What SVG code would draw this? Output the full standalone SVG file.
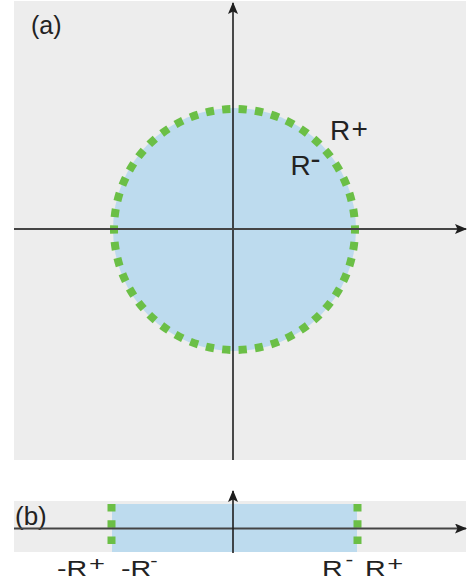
<svg xmlns="http://www.w3.org/2000/svg" width="469" height="585" viewBox="0 0 469 585">
  <style>
    .bg { fill: #ededed; }
    .region { fill: #bddbee; }
    .bound { fill: none; stroke: #6bbf46; stroke-width: 8; }
    .axis { stroke: #1e1e1e; stroke-width: 1.6; fill: none; }
    .haxis { stroke: #444; stroke-width: 2; fill: none; }
    .lbl { font-family: "Liberation Sans", Arial, sans-serif; fill: #222; }
  </style>
  <defs>
    <marker id="arr" viewBox="0 0 12 10" refX="11" refY="5" markerWidth="12" markerHeight="10" markerUnits="userSpaceOnUse" orient="auto">
      <path d="M0,0 L12,5 L0,10 L2.5,5 Z" fill="#1e1e1e"/>
    </marker>
  </defs>
  <rect width="469" height="585" fill="#ffffff"/>

  <g id="panel-a">
    <rect class="bg" x="14" y="1" width="452" height="459"/>
    <circle id="disk" class="region" cx="234.5" cy="229.5" r="121.5"/>
    <circle id="disk-boundary" class="bound" cx="234.5" cy="229.5" r="120.5" pathLength="736" stroke-dasharray="8 8" stroke-dashoffset="4"/>
    <text class="lbl" x="31" y="34" font-size="25">(a)</text>
    <text class="lbl" x="330" y="140" font-size="28">R<tspan x="351.6" y="137.8" font-size="28">+</tspan></text>
    <text class="lbl" x="290.5" y="175" font-size="28">R<tspan x="310.5" y="169" font-size="30">-</tspan></text>
  </g>

  <g id="panel-b">
    <rect class="bg" x="14" y="501" width="452" height="51"/>
    <rect id="interval" class="region" x="112" y="504" width="245" height="48"/>
    <line class="bound" x1="111.5" y1="504" x2="111.5" y2="545" stroke-dasharray="7.5 8.8"/>
    <line class="bound" x1="357.5" y1="504" x2="357.5" y2="545" stroke-dasharray="7.5 8.8"/>
    <text class="lbl" x="15" y="525" font-size="26">(b)</text>
    <g transform="translate(57,576) scale(1.3,1)">
      <text class="lbl" x="0" y="0" font-size="22">-R<tspan x="24.6" y="-5" font-size="21">+</tspan></text>
    </g>
    <g transform="translate(121,576) scale(1.3,1)">
      <text class="lbl" x="0" y="0" font-size="22">-R<tspan x="22.5" y="-10" font-size="17">-</tspan></text>
    </g>
    <g transform="translate(322,576) scale(1.3,1)">
      <text class="lbl" x="0" y="0" font-size="22">R<tspan x="18" y="-10" font-size="18">-</tspan></text>
    </g>
    <g transform="translate(365,576) scale(1.3,1)">
      <text class="lbl" x="0" y="0" font-size="22">R<tspan x="17.2" y="-5" font-size="21">+</tspan></text>
    </g>
  </g>

  <g id="connectors">
    <line class="axis" x1="233" y1="460" x2="233" y2="3" marker-end="url(#arr)"/>
    <line class="haxis" x1="14" y1="229" x2="466" y2="229" marker-end="url(#arr)"/>
    <line class="haxis" x1="14" y1="528.5" x2="466" y2="528.5" marker-end="url(#arr)"/>
    <line class="axis" x1="233" y1="553" x2="233" y2="491" marker-end="url(#arr)"/>
  </g>
</svg>
